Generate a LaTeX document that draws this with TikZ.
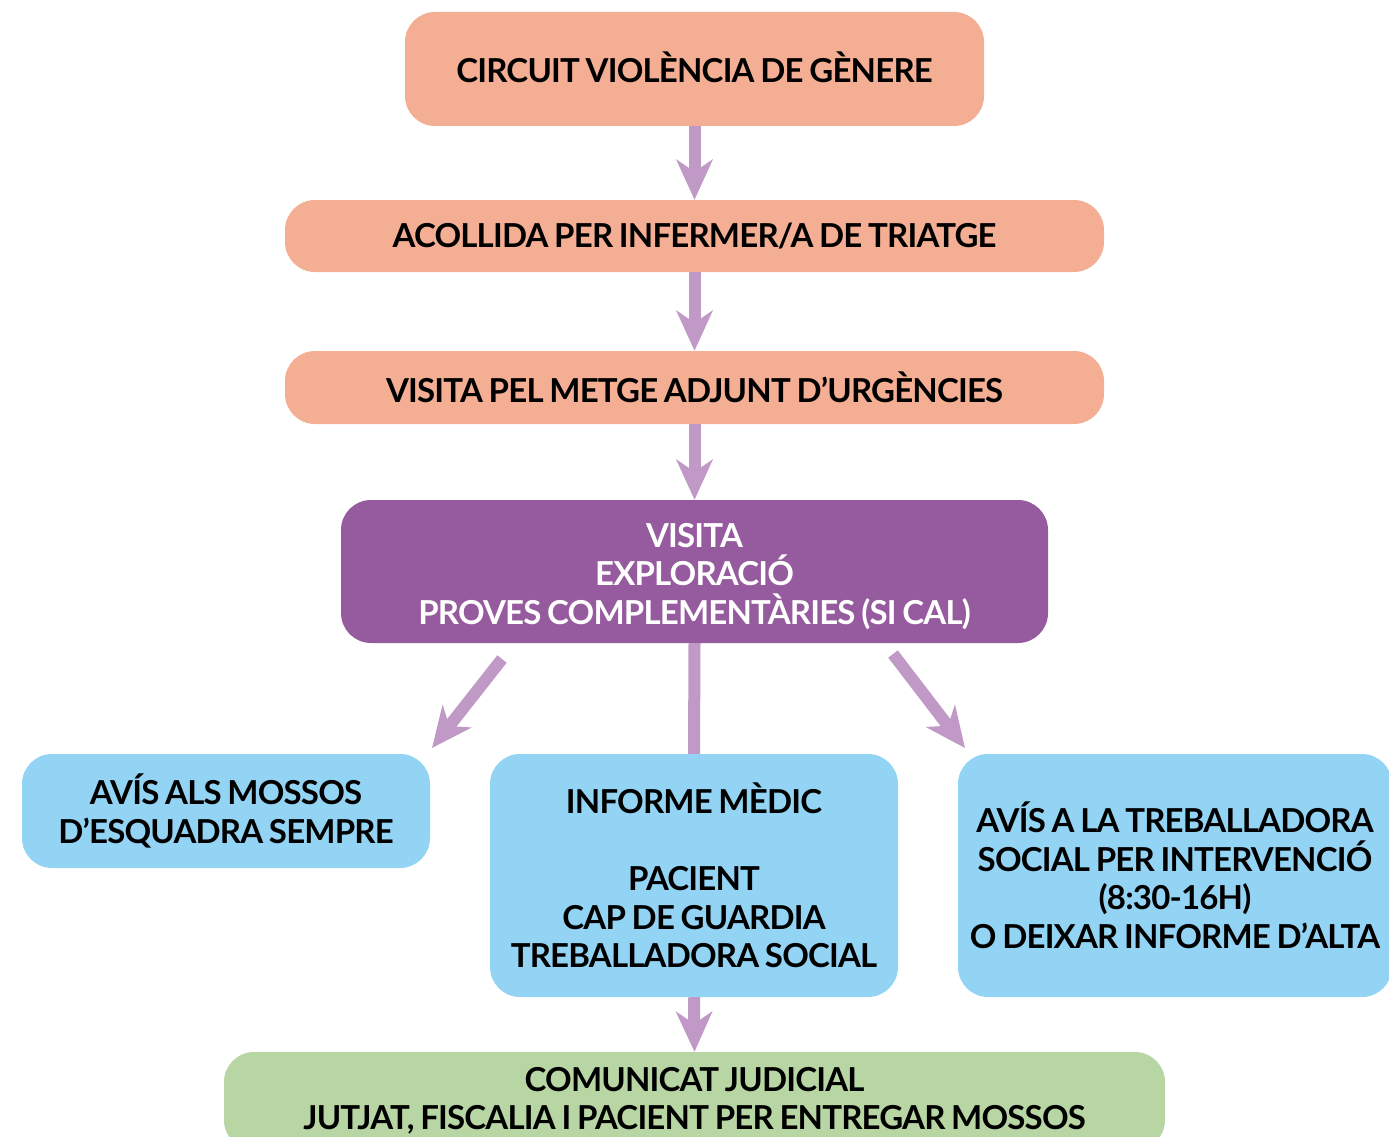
\documentclass[tikz,border=0pt]{standalone}
\usepackage{fontspec}
\usepackage{graphicx}
\setmainfont{Lato}[UprightFont=* Bold, LetterSpace=-2.5, WordSpace=0.8]
\usetikzlibrary{arrows.meta}
\definecolor{salmon}{HTML}{F4AE94}
\definecolor{purp}{HTML}{965A9E}
\definecolor{skyb}{HTML}{93D4F5}
\definecolor{leaf}{HTML}{B8D6A4}
\definecolor{arrc}{HTML}{C199C6}
\tikzset{
  box/.style={rounded corners=30, inner sep=0pt, align=center, font=\fontsize{33}{38.5}\selectfont},
  sbox/.style={box, fill=salmon},
  pbox/.style={box, fill=purp, text=white},
  bbox/.style={box, fill=skyb},
  gbox/.style={box, fill=leaf},
  arr/.style={draw=arrc, line width=12, -{Stealth[length=40, width=36, inset=12]}},
  link/.style={draw=arrc, line width=12}
}
\begin{document}
\begin{tikzpicture}[x=1pt,y=-1pt]
\useasboundingbox (0,0) rectangle (1389,1137);
\node[sbox, minimum width=579, minimum height=114] (c) at (694.5,69) {\rule[-4pt]{0pt}{4pt}CIRCUIT VIOLÈNCIA DE GÈNERE};
\node[sbox, minimum width=819, minimum height=72] (a) at (694.5,236) {ACOLLIDA PER INFERMER/A DE TRIATGE};
\node[sbox, minimum width=819, minimum height=73] (v) at (694.5,387.5) {VISITA PEL METGE ADJUNT D’URGÈNCIES};
\node[pbox, minimum width=707, minimum height=143] (p) at (694.5,571.5) {\rule{0pt}{34pt}VISITA\\EXPLORACIÓ\\PROVES COMPLEMENTÀRIES (SI CAL)};
\node[bbox, minimum width=408, minimum height=114] (l) at (226,811) {AVÍS ALS MOSSOS\\D’ESQUADRA SEMPRE};
\node[bbox, minimum width=408, minimum height=243] (m) at (694,875.5) {INFORME MÈDIC\\[38.5pt]PACIENT\\CAP DE GUARDIA\\TREBALLADORA SOCIAL};
\node[bbox, minimum width=434, minimum height=243] (r) at (1175,875.5) {AVÍS A LA TREBALLADORA\\SOCIAL PER INTERVENCIÓ\\(8:30-16H)\\O DEIXAR INFORME D’ALTA};
\node[gbox, minimum width=941, minimum height=98] (g) at (694.5,1101) {COMUNICAT JUDICIAL\\JUTJAT, FISCALIA I PACIENT PER ENTREGAR MOSSOS};
\coordinate (ls) at (502,659);
\coordinate (le) at (432,748);
\coordinate (rs) at (893,654);
\coordinate (re) at (965,748);
\draw[arr] (c.south) -- (a.north);
\draw[arr] (a.south) -- (v.north);
\draw[arr] (v.south) -- (p.north);
\draw[arr] (ls) -- (le);
\draw[arr] (rs) -- (re);
\draw[link] (p.south) -- (m.north);
\draw[arr] (m.south) -- (g.north);
\end{tikzpicture}
\end{document}
